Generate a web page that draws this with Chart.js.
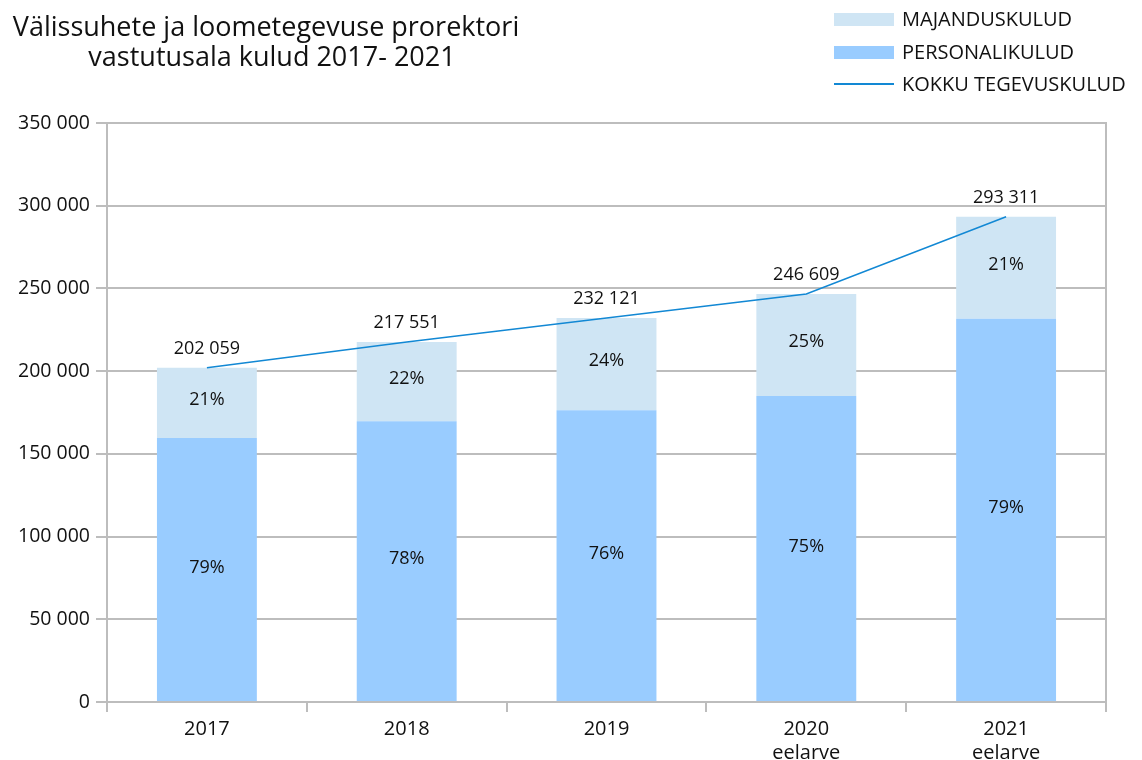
<!DOCTYPE html>
<html>
<head>
<meta charset="utf-8">
<script src="https://cdn.jsdelivr.net/npm/chart.js@4.4.1/dist/chart.umd.min.js"></script>
<style>
  html, body { margin: 0; padding: 0; background: #ffffff; }
  #wrap { position: relative; width: 1142px; height: 760px; }
</style>
</head>
<body>
<div id="wrap"><canvas id="c" width="1142" height="760"></canvas></div>
<script>
// ---- data ----
const categories = ['2017', '2018', '2019', ['2020', 'eelarve'], ['2021', 'eelarve']];
const personalikulud = [159627, 169690, 176412, 184957, 231716];
const majanduskulud = [42432, 47861, 55709, 61652, 61595];
const kokkuTegevuskulud = [202059, 217551, 232121, 246609, 293311];
const yTicks = { min: 0, max: 350000, step: 50000 };
const titleLines = ['Välissuhete ja loometegevuse prorektori', 'vastutusala kulud 2017- 2021'];
const seriesNames = ['MAJANDUSKULUD', 'PERSONALIKULUD', 'KOKKU TEGEVUSKULUD'];

const FONT = '"Open Sans", "Noto Sans", sans-serif';
const COL_MAJ = '#cfe5f4';
const COL_PERS = '#99ccff';
const COL_LINE = '#1288d4';
const COL_GRID = '#bdbdbd';

function fmt(v) {
  return String(Math.round(v)).replace(/\B(?=(\d{3})+(?!\d))/g, ' ');
}

const labelPlugin = {
  id: 'labels',
  afterDatasetsDraw(chart) {
    const ctx = chart.ctx;
    ctx.save();
    ctx.fillStyle = '#111';
    ctx.font = '18px ' + FONT;
    ctx.textAlign = 'center';
    ctx.textBaseline = 'middle';
    const mPers = chart.getDatasetMeta(0);
    const mMaj = chart.getDatasetMeta(1);
    const mLine = chart.getDatasetMeta(2);
    for (let i = 0; i < categories.length; i++) {
      const tot = kokkuTegevuskulud[i];
      const bp = mPers.data[i];
      const bm = mMaj.data[i];
      const pPct = Math.round(personalikulud[i] / tot * 100) + '%';
      const mPct = Math.round(majanduskulud[i] / tot * 100) + '%';
      ctx.fillText(pPct, bp.x, (bp.y + bp.base) / 2 - 2);
      ctx.fillText(mPct, bm.x, (bm.y + bm.base) / 2 - 3);
      const pt = mLine.data[i];
      ctx.fillText(fmt(tot), pt.x, pt.y - 19);
    }
    ctx.restore();
  },
  afterDraw(chart) {
    const ctx = chart.ctx;
    ctx.save();
    // title
    ctx.fillStyle = '#111';
    ctx.font = '27px ' + FONT;
    ctx.textAlign = 'center';
    ctx.textBaseline = 'alphabetic';
    ctx.fillText(titleLines[0], 266, 36);
    ctx.fillText(titleLines[1], 272, 66);
    // legend
    ctx.font = '20px ' + FONT;
    ctx.textAlign = 'left';
    ctx.textBaseline = 'middle';
    const ds = chart.data.datasets;
    const items = [
      { ds: ds[1], y: 19, type: 'box' },
      { ds: ds[0], y: 52, type: 'box' },
      { ds: ds[2], y: 84, type: 'line' }
    ];
    items.forEach(it => {
      if (it.type === 'box') {
        ctx.fillStyle = it.ds.backgroundColor;
        ctx.fillRect(834, it.y - 6, 60, 13);
      } else {
        ctx.strokeStyle = it.ds.borderColor;
        ctx.lineWidth = 2;
        ctx.beginPath();
        ctx.moveTo(834, it.y);
        ctx.lineTo(894, it.y);
        ctx.stroke();
      }
      ctx.fillStyle = '#111';
      ctx.fillText(it.ds.label, 902, it.y + 1);
    });
    ctx.restore();
  }
};

new Chart(document.getElementById('c'), {
  data: {
    labels: categories,
    datasets: [
      {
        type: 'bar', label: seriesNames[1], data: personalikulud,
        backgroundColor: COL_PERS, stack: 's', order: 2,
        barPercentage: 0.5, categoryPercentage: 1.0
      },
      {
        type: 'bar', label: seriesNames[0], data: majanduskulud,
        backgroundColor: COL_MAJ, stack: 's', order: 2,
        barPercentage: 0.5, categoryPercentage: 1.0
      },
      {
        type: 'line', label: seriesNames[2], data: kokkuTegevuskulud,
        borderColor: COL_LINE, backgroundColor: COL_LINE, borderWidth: 1.5,
        pointRadius: 0, tension: 0, order: 1
      }
    ]
  },
  options: {
    responsive: false,
    animation: false,
    layout: { padding: { left: 0, right: 36, top: 123, bottom: 0 } },
    plugins: {
      legend: { display: false },
      title: { display: false },
      tooltip: { enabled: false }
    },
    scales: {
      x: {
        stacked: true,
        grid: { drawOnChartArea: false, color: COL_GRID, tickLength: 10, lineWidth: 2, offset: true },
        border: { color: COL_GRID, width: 2 },
        ticks: { color: '#111', font: { family: FONT, size: 20, lineHeight: 1.2 }, padding: 5, maxRotation: 0 },
        afterFit(s) { s.height = 58; }
      },
      y: {
        stacked: true,
        min: yTicks.min, max: yTicks.max,
        grid: { color: COL_GRID, lineWidth: 2, tickLength: 11 },
        border: { color: COL_GRID, width: 2 },
        ticks: { stepSize: yTicks.step, color: '#111', font: { family: FONT, size: 19.5 }, padding: 6,
                 callback: v => fmt(v) },
        afterFit(s) { s.width = 107; }
      },
      yR: {
        position: 'right',
        min: yTicks.min, max: yTicks.max,
        grid: { drawOnChartArea: false, drawTicks: false },
        border: { color: COL_GRID, width: 2 },
        ticks: { display: false },
        afterFit(s) { s.width = 0; }
      }
    }
  },
  plugins: [labelPlugin]
});
</script>
</body>
</html>
